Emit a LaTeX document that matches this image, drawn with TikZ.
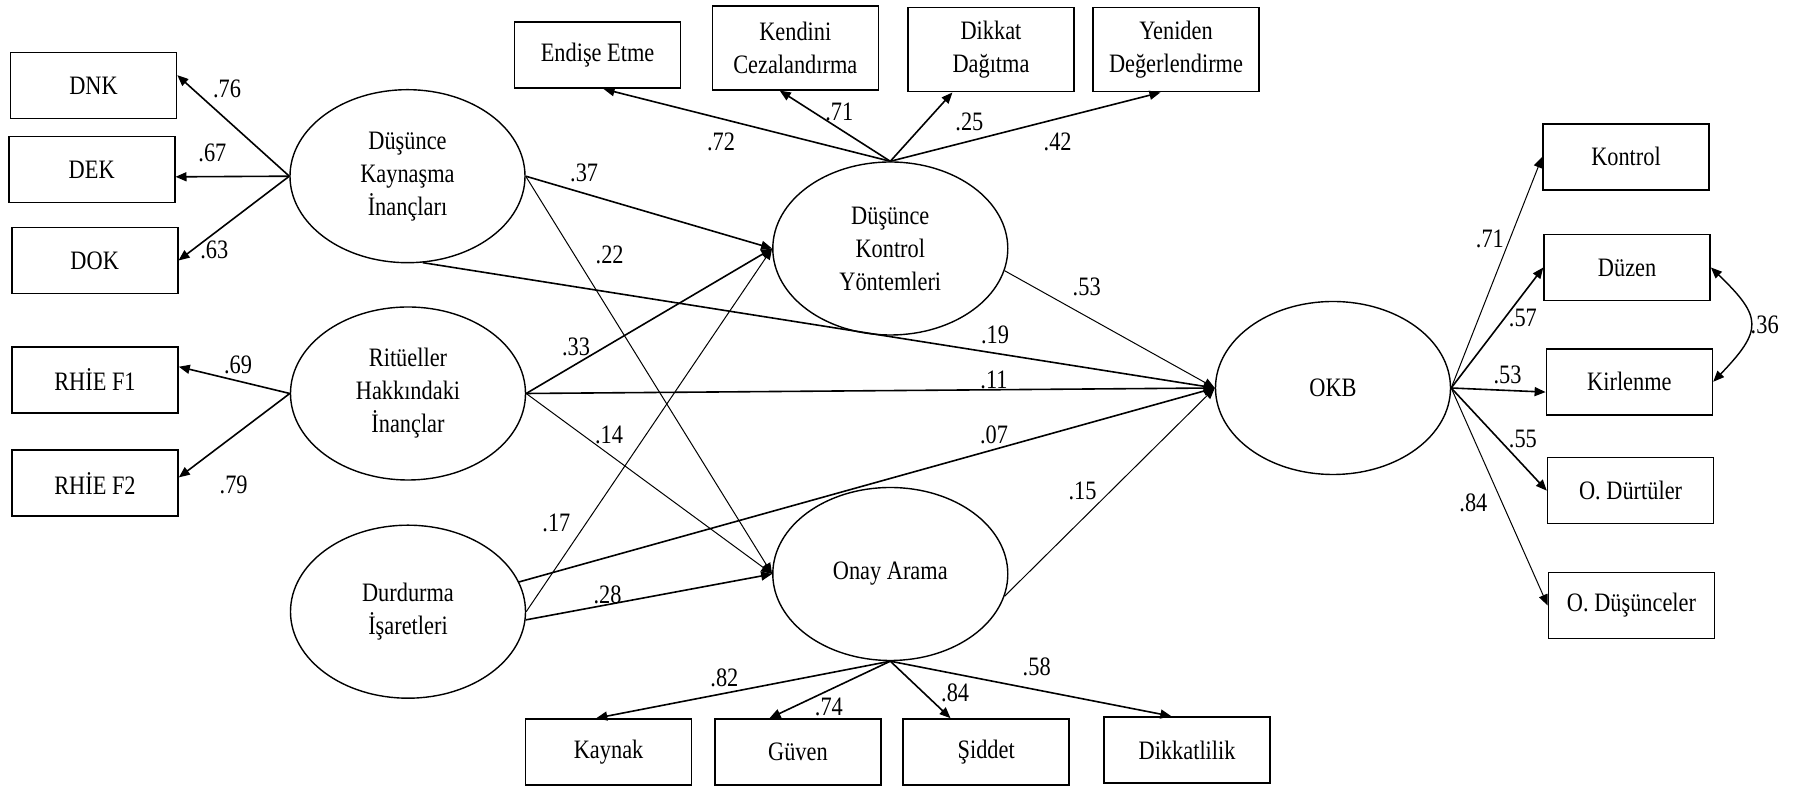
\documentclass[tikz,border=0pt]{standalone}
\usepackage{fontspec}
\setmainfont{Liberation Serif}[FakeStretch=0.84]
\usetikzlibrary{shapes.geometric,arrows.meta}

\begin{document}
\begin{tikzpicture}[x=50pt, y=50pt,
  font=\fontsize{13.3}{16.5}\selectfont,
  >={Triangle[length=5.5pt,width=4.5pt]},
  box/.style={draw, line width=0.8pt, minimum width=83pt, minimum height=33pt, inner sep=0pt, align=center},
  tallbox/.style={box, minimum height=42pt},
  latent/.style={draw, ellipse, line width=0.7pt, minimum width=117.5pt, minimum height=86.5pt, inner sep=0pt, align=center},
  link/.style={->, line width=0.8pt},
  thinlink/.style={->, line width=0.5pt},
  coef/.style={inner sep=0pt}]
  \useasboundingbox (0,0) rectangle (17.96,7.86);

  % latent variables
  \node[latent] (dki)  at (4.075,6.098) {Düşünce\\Kaynaşma\\İnançları};
  \node[latent] (rie)  at (4.08,3.925)  {Ritüeller\\Hakkındaki\\İnançlar};
  \node[latent] (dur)  at (4.08,1.743)  {Durdurma\\İşaretleri};
  \node[latent] (dky)  at (8.903,5.375) {Düşünce\\Kontrol\\Yöntemleri};
  \node[latent] (onay) at (8.903,2.12)  {Onay Arama};
  \node[latent] (okb)  at (13.33,3.98)  {OKB};

  % indicators
  \node[box] (dnk)    at (0.935,7.005) {DNK};
  \node[box] (dek)    at (0.917,6.165) {DEK};
  \node[box] (dok)    at (0.947,5.255) {DOK};
  \node[box] (rhief1) at (0.95,4.06)   {RHİE F1};
  \node[box] (rhief2) at (0.95,3.027)  {RHİE F2};

  \node[box]     (endise)  at (5.976,7.308) {Endişe Etme};
  \node[tallbox] (kendini) at (7.953,7.382) {Kendini\\Cezalandırma};
  \node[tallbox] (dikkat)  at (9.91,7.363)  {Dikkat\\Dağıtma};
  \node[tallbox] (yeniden) at (11.76,7.363) {Yeniden\\Değerlendirme};

  \node[box] (kaynak)      at (6.086,0.34) {Kaynak};
  \node[box] (guven)       at (7.979,0.34) {Güven};
  \node[box] (siddet)      at (9.862,0.34) {Şiddet};
  \node[box] (dikkatlilik) at (11.871,0.36) {Dikkatlilik};

  \node[box] (kontrol)  at (16.26,6.292)  {Kontrol};
  \node[box] (duzen)    at (16.271,5.185) {Düzen};
  \node[box] (kirlenme) at (16.294,4.042) {Kirlenme};
  \node[box] (odurt)    at (16.306,2.953) {O. Dürtüler};
  \node[box] (odus)     at (16.315,1.805) {O. Düşünceler};

  % loadings
  \draw[link] (dki.west) -- (dnk.7);
  \draw[link] (dki.west) -- (dek.-5);
  \draw[link] (dki.west) -- (dok.east);
  \draw[link] (rie.west) -- (rhief1.9);
  \draw[link] (rie.west) -- (rhief2.4);

  \draw[link] (dky.north) -- (endise.-80);
  \draw[link] (dky.north) -- (kendini.-110);
  \draw[link] (dky.north) -- (dikkat);
  \draw[link] (dky.north) -- (yeniden.-110);

  \draw[link] (onay.south) -- (kaynak.110);
  \draw[link] (onay.south) -- (guven.130);
  \draw[link] (onay.south) -- (siddet);
  \draw[link] (onay.south) -- (dikkatlilik.115);

  \draw[thinlink] (okb.east) -- (kontrol.west);
  \draw[link] (okb.east) -- (duzen.west);
  \draw[link] (okb.east) -- (kirlenme.187);
  \draw[link] (okb.east) -- (odurt.west);
  \draw[thinlink] (okb.east) -- (odus.west);
  \draw[<->, line width=0.7pt] (duzen.east) to[bend left=45, looseness=1.6] (kirlenme.east);

  % structural paths
  \draw[link] (dki.east) -- (dky.west);
  \draw[thinlink] (dki.east) -- (onay.west);
  \draw[link] (dki.-80) -- (okb.west);
  \draw[link] (rie.east) -- (dky.west);
  \draw[link] (rie.east) -- (okb.west);
  \draw[thinlink] (rie.east) -- (onay.west);
  \draw[thinlink] (dur.east) -- (dky.west);
  \draw[link] (dur.15) -- (okb.west);
  \draw[link] (dur.-4) -- (onay.west);
  \draw[thinlink] (dky.-11) -- (okb.west);
  \draw[thinlink] (onay.-11) -- (okb.west);

  % coefficients
  \node[coef] (c76) at (2.27,6.967)  {.76};
  \node[coef] (c67) at (2.124,6.33)  {.67};
  \node[coef] (c63) at (2.143,5.36)  {.63};
  \node[coef] (c69) at (2.38,4.21)   {.69};
  \node[coef] (c79) at (2.337,3.01)  {.79};
  \node[coef] (c72) at (7.21,6.443)  {.72};
  \node[coef] (c71) at (8.393,6.743) {.71};
  \node[coef] (c25) at (9.694,6.643) {.25};
  \node[coef] (c42) at (10.577,6.443) {.42};
  \node[coef] (c37) at (5.842,6.127) {.37};
  \node[coef] (c22) at (6.097,5.31)  {.22};
  \node[coef] (c53) at (10.867,4.993) {.53};
  \node[coef] (c19) at (9.95,4.51)   {.19};
  \node[coef] (c11) at (9.94,4.06)   {.11};
  \node[coef] (c33) at (5.76,4.393)  {.33};
  \node[coef] (c14) at (6.09,3.51)   {.14};
  \node[coef] (c07) at (9.94,3.51)   {.07};
  \node[coef] (c17) at (5.564,2.633) {.17};
  \node[coef] (c15) at (10.826,2.953) {.15};
  \node[coef] (c28) at (6.076,1.91)  {.28};
  \node[coef] (c82) at (7.244,1.077) {.82};
  \node[coef] (c74) at (8.289,0.793) {.74};
  \node[coef] (c84) at (9.552,0.927) {.84};
  \node[coef] (c58) at (10.367,1.187) {.58};
  \node[coef] (c71r) at (14.899,5.471) {.71};
  \node[coef] (c57r) at (15.229,4.685) {.57};
  \node[coef] (c53r) at (15.076,4.114) {.53};
  \node[coef] (c55r) at (15.229,3.471) {.55};
  \node[coef] (c84r) at (14.734,2.828) {.84};
  \node[coef] (c36)  at (17.647,4.614) {.36};
\end{tikzpicture}
\end{document}
